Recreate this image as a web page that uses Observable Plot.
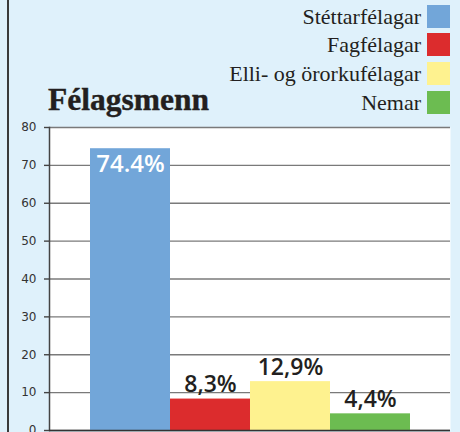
<!DOCTYPE html>
<html><head><meta charset="utf-8">
<script src="https://cdn.jsdelivr.net/npm/d3@7"></script>
<script src="https://cdn.jsdelivr.net/npm/@observablehq/plot@0.6"></script>
<style>
html,body{margin:0;padding:0;background:#dff1fb;}
#wrap{position:relative;width:460px;height:432px;overflow:hidden;background:#dff1fb;}
#border{position:absolute;left:7px;top:0;width:2px;height:432px;background:#3a3a3a;}
#title{position:absolute;left:48px;top:82px;font-family:"Liberation Serif",serif;font-weight:bold;font-size:31.5px;line-height:36px;color:#231f20;-webkit-text-stroke:0.4px #231f20;}
.leg{position:absolute;right:10px;height:23px;display:flex;align-items:center;font-family:"Liberation Serif",serif;font-size:22px;color:#231f20;}
.leg span.sw{display:inline-block;width:23px;height:23px;margin-left:6px;}
#chart{position:absolute;left:0;top:0;}
</style></head>
<body>
<div id="wrap"><div id="chart"></div><div id="border"></div><div id="title">Félagsmenn</div><div id="legend"></div></div>
<script>
const categories = ["Stéttarfélagar", "Fagfélagar", "Elli- og örorkufélagar", "Nemar"];
const values = [74.4, 8.3, 12.9, 4.4];
const valueLabels = ["74.4%", "8,3%", "12,9%", "4,4%"];
const colors = ["#72a6d9", "#dc2c2d", "#fef28f", "#6cbc51"];
const yTicks = [0, 10, 20, 30, 40, 50, 60, 70, 80];

const data = categories.map((c, i) => ({cat: c, value: values[i], label: valueLabels[i]}));

const chart = Plot.plot({
  width: 460, height: 432,
  marginLeft: 49, marginRight: 10, marginTop: 127, marginBottom: 2,
  style: {background: "transparent", overflow: "visible"},
  x: {type: "band", domain: categories, paddingInner: 0, paddingOuter: 0.485, axis: null},
  y: {domain: [0, 80], axis: null, label: null},
  color: {domain: categories, range: colors},
  marks: [
    Plot.frame({fill: "white", stroke: null}),
    Plot.gridY(yTicks, {stroke: "#7a7a7a", strokeOpacity: 1, strokeWidth: 1.4}),
    Plot.axisY(yTicks, {label: null, tickSize: 5, tickPadding: 8, fontSize: 12, fontFamily: "DejaVu Sans", stroke: "#444", fill: "#333", strokeWidth: 1.4}),
    Plot.barY(data, {x: "cat", y: "value", fill: "cat"}),
    Plot.frame({anchor: "left", stroke: "#444", strokeWidth: 1.5}),
    Plot.ruleY([0], {stroke: "#333", strokeWidth: 1.5}),
    Plot.text(data.filter(d => d.value > 50), {x: "cat", y: "value", text: "label", dy: 16, fill: "white", fontSize: 24, fontWeight: 600, fontFamily: "Open Sans"}),
    Plot.text(data.filter(d => d.value <= 50), {x: "cat", y: "value", text: "label", dy: -14, fill: "#231f20", fontSize: 23, fontWeight: 600, fontFamily: "Open Sans"})
  ]
});
document.getElementById("chart").appendChild(chart);

const legend = document.getElementById("legend");
const legendTops = [5, 33, 62, 91];
categories.forEach((c, i) => {
  const row = document.createElement("div");
  row.className = "leg";
  row.style.top = legendTops[i] + "px";
  row.innerHTML = `<span>${c}</span><span class="sw" style="background:${colors[i]}"></span>`;
  legend.appendChild(row);
});
</script>
</body></html>
